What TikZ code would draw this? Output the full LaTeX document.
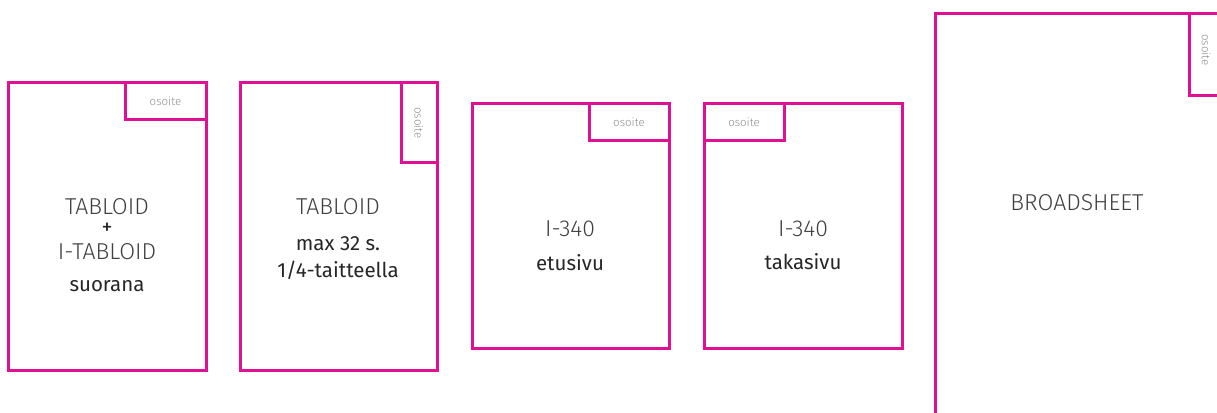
\documentclass[tikz,border=0pt]{standalone}
\usepackage{fontspec}
\setmainfont{Fira Sans}
\newfontfamily\thinfont{Fira Sans Light}
\usetikzlibrary{calc}
\definecolor{pagepink}{RGB}{225,15,145}

\begin{document}
\begin{tikzpicture}[x=1pt,y=1pt]
      \tikzstyle{every node}=[font=\fontsize{20.5}{24}\selectfont, text=black!85, inner sep=0pt]
      \tikzstyle{page}=[draw=pagepink, line width=3pt]
      \tikzstyle{big}=[font=\thinfont\fontsize{23}{27}\selectfont, text=black!75]
      \tikzstyle{addr}=[font=\thinfont\fontsize{11.5}{13}\selectfont, text=black!45]
      \useasboundingbox (0,0) rectangle (1217,412);
      \clip (0,0) rectangle (1217,412);
      % First Page
      \draw[page] (8,329) rectangle (206,41);
      \draw[page] (125,329) rectangle (206,292);
      \node[addr] (addrA) at (165.5,310.5) {osoite};
      \node[big] (tabA) at (107,205) {TABLOID};
      \node[font=\fontsize{22}{24}\selectfont] (plusA) at (107,183) {+};
      \node[big] (itabA) at (107,160) {I-TABLOID};
      \node (suoA) at (107,126) {suorana};

      % Second Page
      \draw[page] (240,329) rectangle (437,41);
      \draw[page] (401,329) rectangle (437,249);
      \node[addr, rotate=-90] (addrB) at (419,289) {osoite};
      \node[big] (tabB) at (338,205) {TABLOID};
      \node (maxB) at (338,168) {max 32 s.};
      \node (foldB) at (338,142) {1/4-taitteella};

      % Third Page
      \draw[page] (472,308) rectangle (669,63);
      \draw[page] (589,308) rectangle (669,271);
      \node[addr] (addrC) at (629,289.5) {osoite};
      \node[big] (numC) at (570,183) {I-340};
      \node (frontC) at (570,149) {etusivu};

      % Fourth Page
      \draw[page] (704,308) rectangle (902,63);
      \draw[page] (704,308) rectangle (784,271);
      \node[addr] (addrD) at (744,289.5) {osoite};
      \node[big] (numD) at (803,183) {I-340};
      \node (backD) at (803,150) {takasivu};

      % Fifth Page
      \draw[page] (935,398) rectangle (1240,-10);
      \draw[page] (1189,398) rectangle (1240,316);
      \node[addr, rotate=-90] (addrE) at (1206,362) {osoite};
      \node[big] (broadE) at (1077,209) {BROADSHEET};
\end{tikzpicture}
\end{document}
